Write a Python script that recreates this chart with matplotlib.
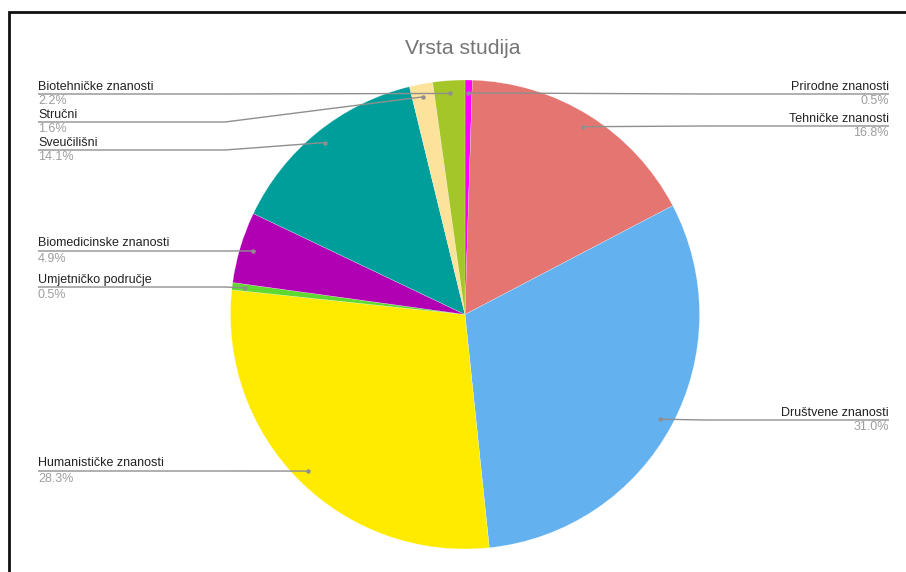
import numpy as np
import matplotlib
matplotlib.use("Agg")
import matplotlib.pyplot as plt

plt.rcParams["font.family"] = ["Liberation Sans", "DejaVu Sans"]

# data, clockwise from 12 o'clock
categories = [
    "Prirodne znanosti",
    "Tehničke znanosti",
    "Društvene znanosti",
    "Humanističke znanosti",
    "Umjetničko područje",
    "Biomedicinske znanosti",
    "Sveučilišni",
    "Stručni",
    "Biotehničke znanosti",
]
shares = [0.5, 16.8, 31.0, 28.3, 0.5, 4.9, 14.1, 1.6, 2.2]
colors = ["#ff00ff", "#e57571", "#63b1ef", "#feeb00", "#5fd92f",
          "#b100b3", "#009e9b", "#fde29b", "#a4c628"]

# label layout (pixel rows of the label rule, side)
label_rows = [94, 126, 420, 471, 287, 251, 150, 122, 94]
label_side = ["r", "r", "r", "l", "l", "l", "l", "l", "l"]

W, H = 906, 572
CX, CY, R = 465, H - 314.5, 234.5
LEFT_X, RIGHT_X = 38, 889
LEFT_ELBOW, RIGHT_ELBOW = 225, 705

fig = plt.figure(figsize=(W / 100, H / 100), dpi=100)
ax = fig.add_axes([0, 0, 1, 1])

wedges, _ = ax.pie(
    shares,
    colors=colors,
    center=(CX, CY),
    radius=R,
    startangle=90,
    counterclock=False,
    wedgeprops=dict(edgecolor="white", linewidth=0.15),
)
# pie() resets the limits, so set them afterwards
ax.set_xlim(0, W)
ax.set_ylim(0, H)
ax.set_aspect("equal")
ax.axis("off")

line_col = "#8f8f8f"
for w, name, val, row, side in zip(wedges, categories, shares, label_rows, label_side):
    mid = np.deg2rad((w.theta1 + w.theta2) / 2)
    dx = CX + 0.945 * R * np.cos(mid)
    dy = CY + 0.945 * R * np.sin(mid)
    ly = H - row
    if side == "l":
        xs = [LEFT_X, LEFT_ELBOW, dx]
        tx, ha = LEFT_X, "left"
    else:
        xs = [RIGHT_X, RIGHT_ELBOW, dx]
        tx, ha = RIGHT_X, "right"
    ax.plot(xs, [ly, ly, dy], color=line_col, lw=1.0, solid_capstyle="butt", zorder=3)
    ax.plot(dx, dy, "o", ms=3.2, color=line_col, mec="none", zorder=4)
    ax.text(tx, ly + 7.5, name, ha=ha, va="center", fontsize=9.0, color="#222222")
    ax.text(tx, ly - 7.5, f"{val:.1f}%", ha=ha, va="center", fontsize=9.0, color="#9e9e9e")

ax.text(463, H - 48, "Vrsta studija", ha="center", va="center", fontsize=15.2, color="#757575")

# frame around the chart (left and top edges visible)
ax.plot([8.5, 8.5, W], [0, H - 11.5, H - 11.5], color="#111111", lw=2, solid_joinstyle="miter", zorder=5)

fig.savefig("out.png", dpi=100)
